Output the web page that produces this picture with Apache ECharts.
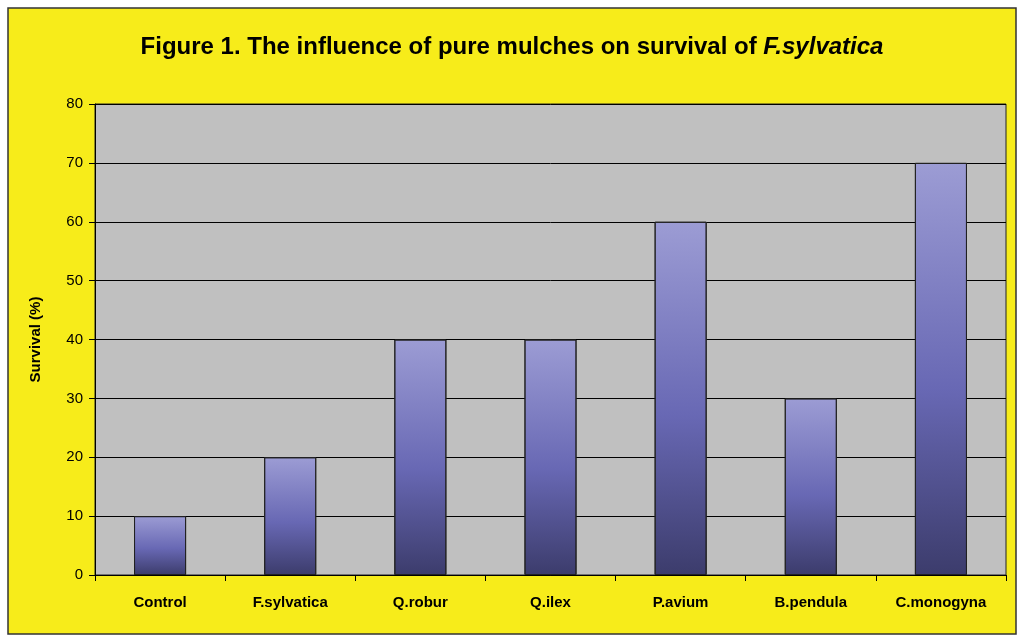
<!DOCTYPE html>
<html><head><meta charset="utf-8">
<script src="https://cdn.jsdelivr.net/npm/echarts@6/dist/echarts.min.js"></script>
<style>html,body{margin:0;padding:0;background:#fff}#c{width:1024px;height:641px}</style>
</head><body><div id="c"></div>
<script>
const categories=["Control","F.sylvatica","Q.robur","Q.ilex","P.avium","B.pendula","C.monogyna"];
const survival=[10,20,40,40,60,30,70];
const chart=echarts.init(document.getElementById('c'));
chart.setOption({
  backgroundColor:'#fff',
  graphic:[{type:'rect',shape:{x:8,y:8,width:1008,height:626},style:{fill:'#F7EC1A',stroke:'#333',lineWidth:1.5},z:-10}],
  title:{text:'{a|Figure 1. The influence of pure mulches on survival of }{b|F.sylvatica}',left:'center',top:30,
    textStyle:{rich:{a:{fontFamily:'Liberation Sans',fontWeight:'bold',fontSize:24,color:'#000'},
      b:{fontFamily:'Liberation Sans',fontWeight:'bold',fontStyle:'italic',fontSize:24,color:'#000'}}}},
  grid:{left:95,right:18,top:104,bottom:66,show:true,backgroundColor:'#C0C0C0',borderColor:'#222',borderWidth:1},
  xAxis:{type:'category',data:categories,
    axisLine:{lineStyle:{color:'#000'}},
    axisTick:{show:true,length:6,lineStyle:{color:'#000'}},
    axisLabel:{color:'#000',fontWeight:'bold',fontSize:15,fontFamily:'Liberation Sans',margin:20}},
  yAxis:{type:'value',min:0,max:80,interval:10,name:'Survival (%)',nameLocation:'middle',nameGap:52,
    nameTextStyle:{color:'#000',fontWeight:'bold',fontSize:15,fontFamily:'Liberation Sans'},
    axisLine:{show:true,lineStyle:{color:'#000'}},
    axisTick:{show:true,length:6,lineStyle:{color:'#000'}},
    axisLabel:{color:'#000',fontSize:15,fontFamily:'Liberation Sans',margin:12},
    splitLine:{lineStyle:{color:'#000',width:1}}},
  series:[{type:'bar',data:survival,barWidth:'40%',
    itemStyle:{borderColor:'#222',borderWidth:1,
      color:new echarts.graphic.LinearGradient(0,0,0,1,[
        {offset:0,color:'#9C9CD4'},{offset:0.55,color:'#6868B4'},{offset:1,color:'#3C3C6C'}])}}]
});
</script></body></html>
